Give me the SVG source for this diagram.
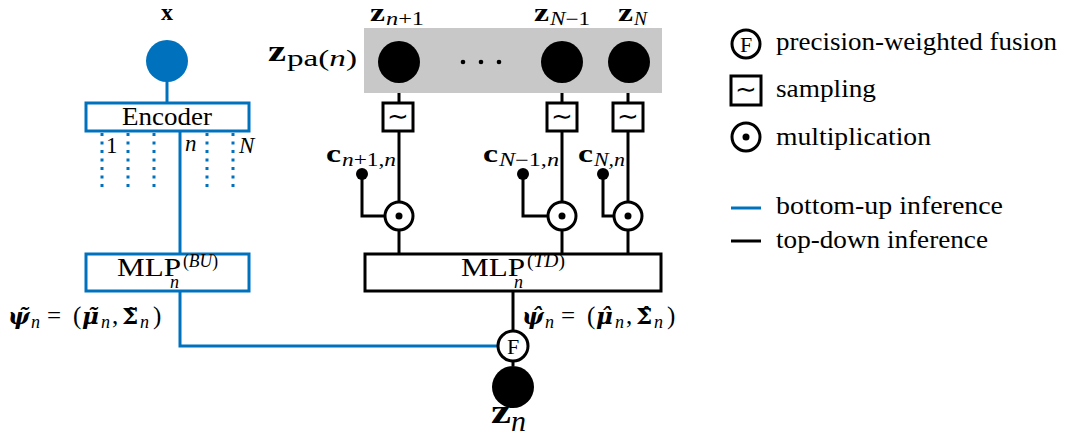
<svg xmlns="http://www.w3.org/2000/svg" width="1065" height="442" viewBox="0 0 1065 442" font-family="Liberation Serif">
<defs>
<style>
.b{font-weight:bold}
.i{font-style:italic}
.bi{font-weight:bold;font-style:italic}
.blue{stroke:#0072bd;stroke-width:3;fill:none}
.blk{stroke:#000;stroke-width:3;fill:none}
.box{fill:#fff;stroke:#000;stroke-width:3}
.bbox{fill:#fff;stroke:#0072bd;stroke-width:3}
.circ{fill:#fff;stroke:#000;stroke-width:3}
.dot{fill:#000}
</style>
</defs>
<g id="connectors">
<line class="blue" x1="167" y1="80" x2="167" y2="103"/>
<line class="blue" x1="180" y1="131" x2="180" y2="254"/>
<polyline class="blue" points="180,291 180,346 498,346"/>
<g class="blue" stroke-dasharray="3 5.5">
<line x1="102" y1="133" x2="102" y2="188"/>
<line x1="128" y1="133" x2="128" y2="188"/>
<line x1="154" y1="133" x2="154" y2="188"/>
<line x1="207" y1="133" x2="207" y2="188"/>
<line x1="233" y1="133" x2="233" y2="188"/>
</g>
<line class="blk" x1="399" y1="80" x2="399" y2="103"/>
<line class="blk" x1="562" y1="80" x2="562" y2="103"/>
<line class="blk" x1="628" y1="80" x2="628" y2="103"/>
<line class="blk" x1="399" y1="131" x2="399" y2="202"/>
<line class="blk" x1="562" y1="131" x2="562" y2="202"/>
<line class="blk" x1="628" y1="131" x2="628" y2="202"/>
<line class="blk" x1="399" y1="230" x2="399" y2="254"/>
<line class="blk" x1="562" y1="230" x2="562" y2="254"/>
<line class="blk" x1="628" y1="230" x2="628" y2="254"/>
<polyline class="blk" points="362,174 362,216 385,216"/>
<polyline class="blk" points="523,174 523,216 548,216"/>
<polyline class="blk" points="603,174 603,216 614,216"/>
<line class="blk" x1="513" y1="291" x2="513" y2="331"/>
<line class="blk" x1="513" y1="361" x2="513" y2="366"/>
</g>
<g id="node-x">
<circle cx="167" cy="61" r="21" fill="#0072bd"/>
<text font-family="Liberation Serif" x="167" y="20" class="b" font-size="24" text-anchor="middle">x</text>
</g>
<g id="node-encoder">
<rect class="bbox" x="86" y="103" width="163" height="28"/>
<text font-family="Liberation Serif" x="167" y="125" font-size="25" text-anchor="middle" textLength="90" lengthAdjust="spacingAndGlyphs">Encoder</text>
<text font-family="Liberation Serif" x="106" y="153" font-size="23">1</text>
<text font-family="Liberation Serif" x="185" y="151" font-size="23" class="i">n</text>
<text font-family="Liberation Serif" x="239" y="153" font-size="23" class="i">N</text>
</g>
<g id="node-zpa">
<rect x="364" y="28" width="298" height="65" fill="#c8c8c8"/>
<text font-family="Liberation Serif" x="268" y="61" class="b" font-size="30" textLength="18" lengthAdjust="spacingAndGlyphs">z</text>
<text font-family="Liberation Serif" x="287" y="66" font-size="23" textLength="70" lengthAdjust="spacingAndGlyphs">pa(<tspan font-style="italic">n</tspan>)</text>
<circle cx="399" cy="62" r="21" class="dot"/>
<circle cx="562" cy="62" r="21" class="dot"/>
<circle cx="629" cy="62" r="21" class="dot"/>
<circle cx="463" cy="62" r="2.3" class="dot"/>
<circle cx="481" cy="62" r="2.3" class="dot"/>
<circle cx="499" cy="62" r="2.3" class="dot"/>
<text font-family="Liberation Serif" x="370" y="21" class="b" font-size="26" textLength="15" lengthAdjust="spacingAndGlyphs">z</text>
<text font-family="Liberation Serif" x="386" y="25" font-size="18" textLength="38" lengthAdjust="spacingAndGlyphs"><tspan font-style="italic">n</tspan>+1</text>
<text font-family="Liberation Serif" x="534" y="21" class="b" font-size="26" textLength="15" lengthAdjust="spacingAndGlyphs">z</text>
<text font-family="Liberation Serif" x="550" y="25" font-size="18" textLength="40" lengthAdjust="spacingAndGlyphs"><tspan font-style="italic">N</tspan>−1</text>
<text font-family="Liberation Serif" x="618" y="21" class="b" font-size="26" textLength="15" lengthAdjust="spacingAndGlyphs">z</text>
<text font-family="Liberation Serif" x="634" y="25" font-size="18" class="i" textLength="13" lengthAdjust="spacingAndGlyphs">N</text>
</g>
<g id="node-sampling">
<rect class="box" x="383" y="103" width="30" height="28"/>
<rect class="box" x="547" y="103" width="30" height="28"/>
<rect class="box" x="613" y="103" width="30" height="28"/>
<text font-family="Liberation Serif" x="398" y="125" font-size="26" text-anchor="middle">∼</text>
<text font-family="Liberation Serif" x="562" y="125" font-size="26" text-anchor="middle">∼</text>
<text font-family="Liberation Serif" x="628" y="125" font-size="26" text-anchor="middle">∼</text>
</g>
<g id="node-c">
<circle cx="362" cy="174" r="6" class="dot"/>
<circle cx="523" cy="174" r="6" class="dot"/>
<circle cx="603" cy="174" r="6" class="dot"/>
<text font-family="Liberation Serif" x="326" y="162" class="b" font-size="26" textLength="15" lengthAdjust="spacingAndGlyphs">c</text>
<text font-family="Liberation Serif" x="342" y="166" font-size="18" textLength="54" lengthAdjust="spacingAndGlyphs"><tspan font-style="italic">n</tspan>+1,<tspan font-style="italic">n</tspan></text>
<text font-family="Liberation Serif" x="483" y="162" class="b" font-size="26" textLength="15" lengthAdjust="spacingAndGlyphs">c</text>
<text font-family="Liberation Serif" x="499" y="166" font-size="18" textLength="60" lengthAdjust="spacingAndGlyphs"><tspan font-style="italic">N</tspan>−1,<tspan font-style="italic">n</tspan></text>
<text font-family="Liberation Serif" x="578" y="162" class="b" font-size="26" textLength="15" lengthAdjust="spacingAndGlyphs">c</text>
<text font-family="Liberation Serif" x="594" y="166" font-size="18" class="i" textLength="31" lengthAdjust="spacingAndGlyphs">N,n</text>
</g>
<g id="node-mult">
<circle class="circ" cx="399" cy="216" r="14"/>
<circle class="circ" cx="562" cy="216" r="14"/>
<circle class="circ" cx="628" cy="216" r="14"/>
<circle cx="399" cy="216" r="3.5" class="dot"/>
<circle cx="562" cy="216" r="3.5" class="dot"/>
<circle cx="628" cy="216" r="3.5" class="dot"/>
</g>
<g id="node-mlp-bu">
<rect class="bbox" x="86" y="254" width="163" height="37"/>
<text font-family="Liberation Serif" x="117" y="276" font-size="25" textLength="64" lengthAdjust="spacingAndGlyphs">MLP</text>
<text font-family="Liberation Serif" x="183" y="267" font-size="18" textLength="35" lengthAdjust="spacingAndGlyphs">(<tspan font-style="italic">BU</tspan>)</text>
<text font-family="Liberation Serif" x="170" y="288" font-size="18" class="i">n</text>
</g>
<g id="node-mlp-td">
<rect class="box" x="365" y="254" width="296" height="37"/>
<text font-family="Liberation Serif" x="461" y="276" font-size="25" textLength="64" lengthAdjust="spacingAndGlyphs">MLP</text>
<text font-family="Liberation Serif" x="527" y="267" font-size="18" textLength="38" lengthAdjust="spacingAndGlyphs">(<tspan font-style="italic">TD</tspan>)</text>
<text font-family="Liberation Serif" x="514" y="288" font-size="18" class="i">n</text>
</g>
<g id="label-psi-tilde">
<text font-family="DejaVu Serif" x="8" y="324" font-size="23" class="bi">ψ̃</text>
<text font-family="Liberation Serif" x="31" y="328" font-size="18" class="i">n</text>
<text font-family="Liberation Serif" x="47" y="324" font-size="25">=</text>
<text font-family="Liberation Serif" x="73" y="324" font-size="25">(</text>
<text font-family="DejaVu Serif" x="82" y="324" font-size="23" class="bi">μ̃</text>
<text font-family="Liberation Serif" x="101" y="328" font-size="18" class="i">n</text>
<text font-family="Liberation Serif" x="112" y="324" font-size="25">,</text>
<text font-family="DejaVu Serif" x="122" y="324" font-size="23" class="b">Σ̃</text>
<text font-family="Liberation Serif" x="140" y="328" font-size="18" class="i">n</text>
<text font-family="Liberation Serif" x="153" y="324" font-size="25">)</text>
</g>
<g id="label-psi-hat">
<text font-family="DejaVu Serif" x="522" y="324" font-size="23" class="bi">ψ̂</text>
<text font-family="Liberation Serif" x="545" y="328" font-size="18" class="i">n</text>
<text font-family="Liberation Serif" x="561" y="324" font-size="25">=</text>
<text font-family="Liberation Serif" x="587" y="324" font-size="25">(</text>
<text font-family="DejaVu Serif" x="596" y="324" font-size="23" class="bi">μ̂</text>
<text font-family="Liberation Serif" x="615" y="328" font-size="18" class="i">n</text>
<text font-family="Liberation Serif" x="626" y="324" font-size="25">,</text>
<text font-family="DejaVu Serif" x="636" y="324" font-size="23" class="b">Σ̂</text>
<text font-family="Liberation Serif" x="654" y="328" font-size="18" class="i">n</text>
<text font-family="Liberation Serif" x="667" y="324" font-size="25">)</text>
</g>
<g id="node-fusion">
<circle class="circ" cx="513" cy="346" r="15"/>
<text font-family="Liberation Serif" x="513" y="354" font-size="22" text-anchor="middle">F</text>
</g>
<g id="node-zn">
<circle cx="513" cy="387" r="21" class="dot"/>
<text font-family="Liberation Serif" x="491" y="423" class="b" font-size="34" textLength="20" lengthAdjust="spacingAndGlyphs">z</text>
<text font-family="Liberation Serif" x="511" y="431" class="i" font-size="30">n</text>
</g>
<g id="legend">
<circle class="circ" cx="746" cy="44" r="14"/>
<text font-family="Liberation Serif" x="746" y="52" font-size="22" text-anchor="middle">F</text>
<text font-family="Liberation Serif" x="776" y="50" font-size="25" textLength="281" lengthAdjust="spacingAndGlyphs">precision-weighted fusion</text>
<rect class="box" x="731" y="76" width="30" height="29"/>
<text font-family="Liberation Serif" x="746" y="98" font-size="26" text-anchor="middle">∼</text>
<text font-family="Liberation Serif" x="776" y="97" font-size="25" textLength="100" lengthAdjust="spacingAndGlyphs">sampling</text>
<circle class="circ" cx="746" cy="137" r="14"/>
<circle cx="746" cy="137" r="3.5" class="dot"/>
<text font-family="Liberation Serif" x="776" y="145" font-size="25" textLength="155" lengthAdjust="spacingAndGlyphs">multiplication</text>
<line class="blue" x1="731" y1="208" x2="761" y2="208"/>
<text font-family="Liberation Serif" x="776" y="214" font-size="25" textLength="227" lengthAdjust="spacingAndGlyphs">bottom-up inference</text>
<line class="blk" x1="731" y1="241" x2="761" y2="241"/>
<text font-family="Liberation Serif" x="776" y="248" font-size="25" textLength="212" lengthAdjust="spacingAndGlyphs">top-down inference</text>
</g>
</svg>
